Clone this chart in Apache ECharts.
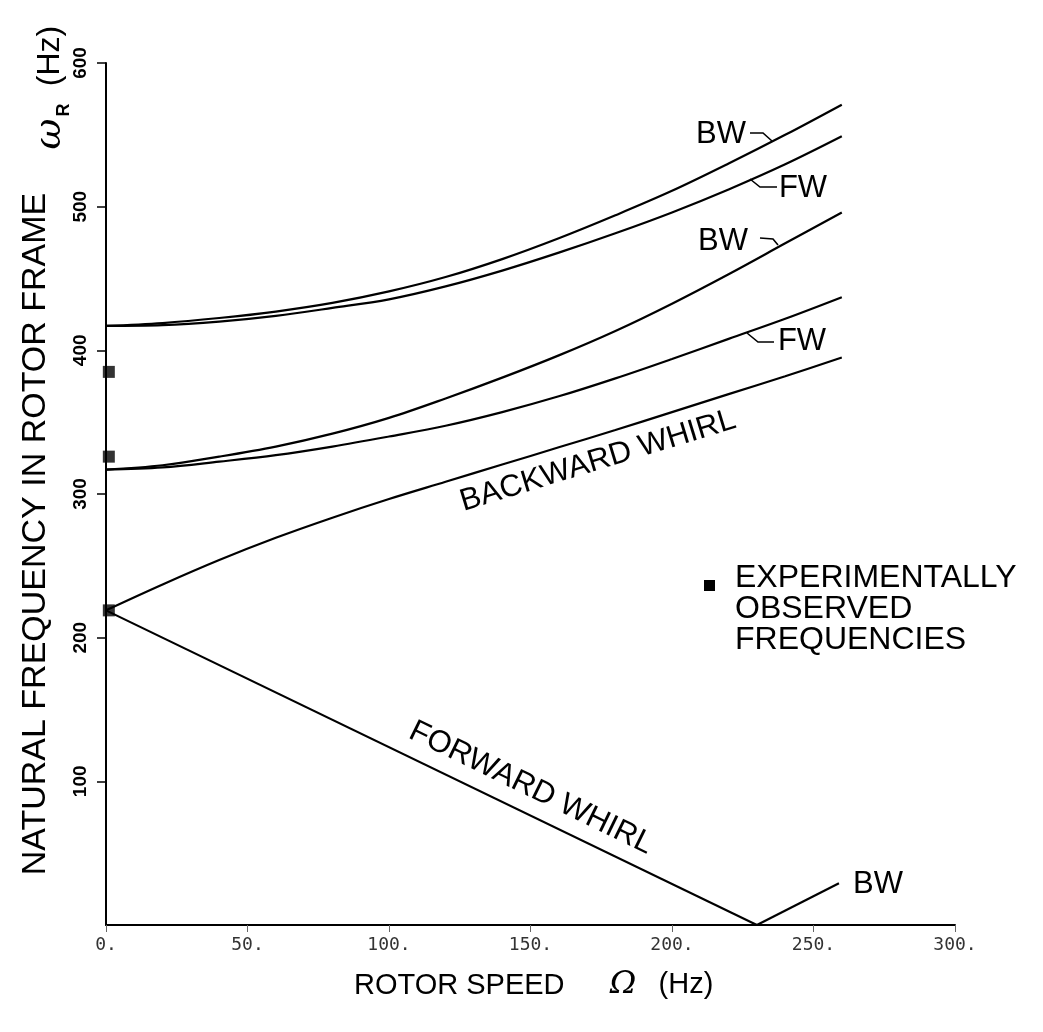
<!DOCTYPE html>
<html>
<head>
<meta charset="utf-8">
<script src="https://cdn.jsdelivr.net/npm/echarts@6/dist/echarts.min.js"></script>
<style>
  html, body { margin: 0; padding: 0; background: #ffffff; }
  #chart { width: 1043px; height: 1032px; }
</style>
</head>
<body>
<div id="chart"></div>
<script>
// ---- Data ----
const rotorSpeed = [0, 20, 40, 60, 80, 100, 120, 140, 160, 180, 200, 220, 240, 260];
const upperBW   = [417, 419, 422.5, 427, 433, 441, 451, 463.5, 478, 494, 511, 530, 550, 571];
const upperFW   = [417, 417.5, 420, 424, 429.5, 435.5, 444.5, 455.5, 468, 481.5, 496, 512, 529.5, 549];
const middleBW  = [317, 320, 326, 333, 342, 353, 366.5, 381, 396.5, 413.5, 432.5, 453, 474.5, 496];
const middleFW  = [317, 318.5, 322.5, 327, 333, 340, 347.5, 357, 368, 380.5, 394, 408, 422, 437];
const backwardWhirl = [219, 237, 254, 269.5, 283.5, 296.5, 308.5, 320.5, 332.5, 344.5, 357, 369.5, 382, 395];
const forwardWhirlSpeed = [0, 230];
const forwardWhirlFreq  = [219, 0];
const lowBWSpeed = [230, 259];
const lowBWFreq  = [0, 29];
const expSpeed = [1, 1, 1];
const expFreq  = [219, 326, 385];
const xTicks = [0, 50, 100, 150, 200, 250, 300];
const yTicks = [0, 100, 200, 300, 400, 500, 600];

const pair = (xs, ys) => xs.map((x, i) => [x, ys[i]]);

const chart = echarts.init(document.getElementById('chart'), null, { renderer: 'canvas' });

const lineSeries = (name, data) => ({
  name, type: 'line', data, smooth: 0.35, symbol: 'none',
  lineStyle: { color: '#000', width: 2.2 }, z: 3, silent: true
});

const SANS = '"Liberation Sans", Arial, Helvetica, sans-serif';
const txt = (text, x, y, size, opts = {}) => ({
  type: 'text', x, y, rotation: opts.rotation || 0, z: 10, silent: true,
  style: {
    text, fill: '#000',
    font: (opts.style || 'normal') + ' ' + (opts.weight || 'normal') + ' ' + size + 'px ' + (opts.family || SANS),
    textAlign: opts.align || 'center', textVerticalAlign: opts.valign || 'middle',
    align: opts.align || 'center', verticalAlign: opts.valign || 'middle'
  }
});
const hook = (pts) => ({
  type: 'polyline', z: 10, silent: true,
  shape: { points: pts },
  style: { stroke: '#000', lineWidth: 1.6, fill: null }
});

const option = {
  backgroundColor: '#ffffff',
  animation: false,
  grid: { left: 106, right: 88, top: 63, bottom: 107, containLabel: false },
  xAxis: {
    type: 'value', min: xTicks[0], max: xTicks[xTicks.length - 1], interval: 50,
    axisLine: { show: true, onZero: false, lineStyle: { color: '#000', width: 2 } },
    axisTick: { show: true, length: 7, lineStyle: { color: '#666', width: 1 } },
    axisLabel: {
      formatter: v => v + '.', fontFamily: '"DejaVu Sans Mono", monospace',
      fontSize: 18, color: '#333', margin: 11
    },
    splitLine: { show: false }
  },
  yAxis: {
    type: 'value', min: yTicks[0], max: yTicks[yTicks.length - 1], interval: 100,
    axisLine: { show: true, onZero: false, lineStyle: { color: '#000', width: 2 } },
    axisTick: { show: true, length: 9, lineStyle: { color: '#000', width: 1.5 } },
    axisLabel: {
      rotate: 90, showMinLabel: false, fontFamily: SANS, fontWeight: 'bold',
      fontSize: 19, color: '#000', margin: 16
    },
    splitLine: { show: false }
  },
  series: [
    lineSeries('Upper BW', pair(rotorSpeed, upperBW)),
    lineSeries('Upper FW', pair(rotorSpeed, upperFW)),
    lineSeries('Middle BW', pair(rotorSpeed, middleBW)),
    lineSeries('Middle FW', pair(rotorSpeed, middleFW)),
    lineSeries('Backward whirl', pair(rotorSpeed, backwardWhirl)),
    Object.assign(lineSeries('Forward whirl', pair(forwardWhirlSpeed, forwardWhirlFreq)), { smooth: false }),
    Object.assign(lineSeries('Low BW', pair(lowBWSpeed, lowBWFreq)), { smooth: false }),
    {
      name: 'Experimentally observed', type: 'scatter', data: pair(expSpeed, expFreq),
      symbol: 'rect', symbolSize: 12, itemStyle: { color: '#000' }, z: 5, silent: true
    }
  ],
  graphic: [
    // Y axis title
    txt('NATURAL FREQUENCY IN ROTOR FRAME', 36, 534, 34, { rotation: Math.PI / 2 }),
    txt('ω', 50, 134, 38, { rotation: Math.PI / 2, family: '"DejaVu Serif", serif', style: 'italic' }),
    txt('R', 64, 110, 18, { rotation: Math.PI / 2, weight: 'bold' }),
    txt('(Hz)', 50, 56, 32, { rotation: Math.PI / 2 }),
    // X axis title
    txt('ROTOR SPEED', 354, 986, 29, { align: 'left' }),
    txt('Ω', 623, 985, 32, { family: '"DejaVu Serif", serif', style: 'italic' }),
    txt('(Hz)', 686, 985, 29),
    // Curve labels
    txt('BW', 721, 134, 31),
    hook([[750, 133], [763, 133], [772, 141]]),
    txt('FW', 803, 188, 31),
    hook([[777, 187], [760, 187], [750, 179]]),
    txt('BW', 723, 241, 31),
    hook([[760, 238], [773, 239], [778, 245]]),
    txt('FW', 802, 341, 31),
    hook([[774, 342], [758, 342], [747, 333]]),
    txt('BW', 878, 884, 31),
    txt('BACKWARD WHIRL', 598, 461, 31, { rotation: 17 * Math.PI / 180 }),
    txt('FORWARD WHIRL', 531, 788, 31, { rotation: -26 * Math.PI / 180 }),
    // Legend
    { type: 'rect', z: 10, silent: true, shape: { x: 704, y: 580, width: 11, height: 11 }, style: { fill: '#000' } },
    txt('EXPERIMENTALLY', 735, 578, 32, { align: 'left' }),
    txt('OBSERVED', 735, 609, 32, { align: 'left' }),
    txt('FREQUENCIES', 735, 640, 32, { align: 'left' })
  ]
};
chart.setOption(option);
</script>
</body>
</html>
